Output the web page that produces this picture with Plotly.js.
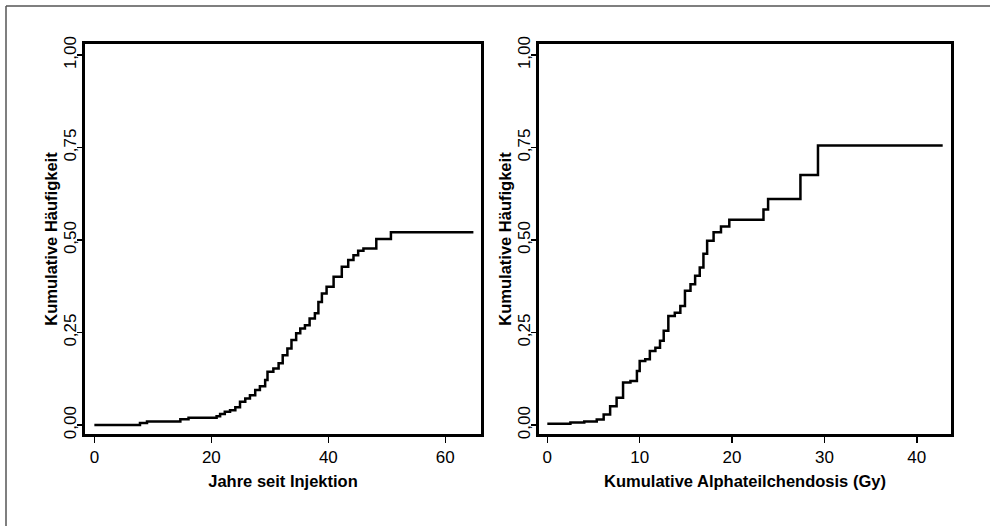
<!DOCTYPE html>
<html>
<head>
<meta charset="utf-8">
<script src="https://cdn.plot.ly/plotly-3.0.1.min.js"></script>
<style>
html,body{margin:0;padding:0;background:#ffffff;}
#chart{width:990px;height:526px;}
</style>
</head>
<body>
<div id="chart"></div>
<script>
// Left panel: cumulative incidence vs years since injection
const yearsLeft = [0, 7.8, 9.0, 14.7, 16.1, 20.9, 21.5, 22.3, 23.2, 24.1, 24.9, 25.8, 26.6, 27.5, 28.3, 29.2, 29.6, 30.6, 31.5, 32.2, 33.0, 33.7, 34.5, 35.2, 36.0, 36.8, 37.7, 38.3, 38.9, 39.7, 40.9, 42.3, 43.4, 44.3, 45.1, 46.0, 48.2, 50.7, 64.8];
const cumLeft   = [0, 0.006, 0.010, 0.016, 0.020, 0.024, 0.030, 0.036, 0.040, 0.048, 0.063, 0.072, 0.081, 0.095, 0.105, 0.122, 0.144, 0.153, 0.167, 0.189, 0.207, 0.230, 0.248, 0.261, 0.270, 0.288, 0.302, 0.333, 0.356, 0.374, 0.401, 0.428, 0.446, 0.459, 0.471, 0.477, 0.503, 0.521, 0.521];

// Right panel: cumulative incidence vs cumulative alpha particle dose (Gy)
const doseRight = [0, 2.5, 4.0, 5.35, 6.1, 6.8, 7.5, 8.2, 9.0, 9.7, 10.0, 10.6, 11.1, 11.7, 12.2, 12.6, 13.1, 13.8, 14.4, 14.9, 15.5, 16.0, 16.5, 16.9, 17.3, 18.0, 18.8, 19.7, 23.4, 23.9, 27.4, 29.3, 42.8];
const cumRight  = [0.004, 0.007, 0.010, 0.015, 0.029, 0.051, 0.074, 0.115, 0.119, 0.146, 0.173, 0.178, 0.200, 0.209, 0.228, 0.255, 0.295, 0.304, 0.322, 0.363, 0.381, 0.404, 0.426, 0.463, 0.498, 0.521, 0.537, 0.555, 0.583, 0.611, 0.676, 0.756, 0.756];

const xTicksLeft = [0, 20, 40, 60];
const xTicksRight = [0, 10, 20, 30, 40];
const yTicks = [0, 0.25, 0.5, 0.75, 1.0];

const xTitleLeft = "Jahre seit Injektion";
const xTitleRight = "Kumulative Alphateilchendosis (Gy)";
const yTitle = "Kumulative Häufigkeit";

const FONT = "Liberation Sans, Arial, sans-serif";

const traces = [
  {x: yearsLeft, y: cumLeft, xaxis: 'x', yaxis: 'y', type: 'scatter', mode: 'lines',
   line: {shape: 'hv', color: '#000', width: 2.5}, hoverinfo: 'x+y', showlegend: false},
  {x: doseRight, y: cumRight, xaxis: 'x2', yaxis: 'y2', type: 'scatter', mode: 'lines',
   line: {shape: 'hv', color: '#000', width: 2.5}, hoverinfo: 'x+y', showlegend: false}
];

function xAxis(domain, range, ticks, title) {
  return {
    domain: domain, range: range, tickvals: ticks, ticktext: ticks.map(String),
    showgrid: false, zeroline: false, showline: true, mirror: true,
    linecolor: '#000', linewidth: 3, ticks: 'outside', ticklen: 6, tickwidth: 1.5, tickcolor: '#000',
    tickfont: {family: FONT, size: 17, color: '#000'},
    title: {text: title, font: {family: FONT, size: 16.5, color: '#000', weight: 'bold'}, standoff: 10}
  };
}
function yAxis(domain, anchor) {
  return {
    domain: domain, range: [-0.024, 1.03], tickvals: yTicks, tickformat: '.2f',
    anchor: anchor,
    showgrid: false, zeroline: false, showline: true, mirror: true,
    linecolor: '#000', linewidth: 3, ticks: 'outside', ticklen: 5, tickwidth: 1.5, tickcolor: '#000',
    tickangle: -90, ticklabelstandoff: -6,
    tickfont: {family: FONT, size: 17, color: '#000'},
    title: {text: yTitle, font: {family: FONT, size: 16.5, color: '#000', weight: 'bold'}, standoff: 0}
  };
}

const layout = {
  width: 990, height: 526,
  margin: {l: 0, r: 0, t: 0, b: 0},
  paper_bgcolor: '#ffffff', plot_bgcolor: '#ffffff',
  separators: ',.',
  font: {family: FONT},
  xaxis: Object.assign(xAxis([85/990, 481/990], [-1.6, 66.1], xTicksLeft, xTitleLeft), {anchor: 'y'}),
  yaxis: yAxis([1 - 434/526, 1 - 44/526], 'x'),
  xaxis2: Object.assign(xAxis([539/990, 951/990], [-0.9, 43.7], xTicksRight, xTitleRight), {anchor: 'y2'}),
  yaxis2: yAxis([1 - 434/526, 1 - 44/526], 'x2'),
  shapes: [
    {type: 'line', xref: 'paper', yref: 'paper', x0: 6/990, x1: 1, y0: 1 - 6/526, y1: 1 - 6/526,
     line: {color: '#555', width: 1.5}},
    {type: 'line', xref: 'paper', yref: 'paper', x0: 6/990, x1: 6/990, y0: 0, y1: 1 - 6/526,
     line: {color: '#555', width: 1.5}}
  ]
};

Plotly.newPlot('chart', traces, layout, {displayModeBar: false, staticPlot: true});
</script>
</body>
</html>
